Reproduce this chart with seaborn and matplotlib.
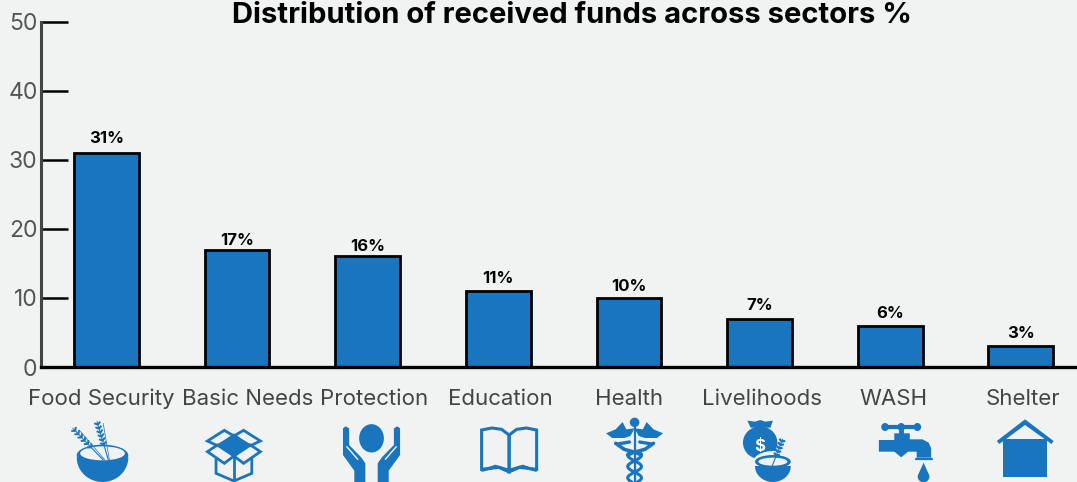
import numpy as np
import pandas as pd
import matplotlib
matplotlib.use("Agg")
import matplotlib.pyplot as plt
from matplotlib.patches import Polygon, Ellipse
import seaborn as sns

sectors = ["Food Security", "Basic Needs", "Protection", "Education", "Health", "Livelihoods", "WASH", "Shelter"]
funds = [31, 17, 16, 11, 10, 7, 6, 3]
bar_labels = ["31%", "17%", "16%", "11%", "10%", "7%", "6%", "3%"]
y_ticks = [0, 10, 20, 30, 40, 50]
label_shift_px = [-5, 11, 7, 2, 0, 2, 3, 2]
bar_label_pad_px = [7, 2, 2, 5, 4, 6, 5, 5]

BG = "#f1f3f3"
BLUE = "#1a75bf"
W, H = 1077, 482
XS = 0.344

sns.set_theme(style="white")
plt.rcParams["font.family"] = ["Inter", "DejaVu Sans"]

fig = plt.figure(figsize=(W / 100, H / 100), dpi=100, facecolor=BG)
ax = fig.add_axes([41 / W, 1 - 367 / H, (W - 41) / W, 345.5 / H], facecolor=BG)
df = pd.DataFrame({"sector": sectors, "funds": funds})
sns.barplot(data=df, x="sector", y="funds", color=BLUE, saturation=1, width=0.495,
            edgecolor="black", linewidth=2.0, ax=ax)
ax.set_xlim(-0.5, 7.43)
ax.set_ylim(0, 50)
ax.set_xlabel("")
ax.set_ylabel("")
ax.set_yticks(y_ticks)
ax.tick_params(axis="y", direction="in", length=19.4, width=1.8, color="black",
               labelsize=16.5, labelcolor="#555555", pad=2.5, left=True)
px_per_unit = (W - 41) / 7.93
ax.set_xticks([i + s / px_per_unit for i, s in enumerate(label_shift_px)])
ax.set_xticklabels(sectors)
ax.tick_params(axis="x", length=0, labelsize=16, labelcolor="#444444", pad=15.5)
for s in ("top", "right"):
    ax.spines[s].set_visible(False)
ax.spines["left"].set_color("#444444")
ax.spines["left"].set_linewidth(2.2)
ax.spines["bottom"].set_color("black")
ax.spines["bottom"].set_linewidth(2.4)
for patch, txt, val, pad in zip(ax.patches, bar_labels, funds, bar_label_pad_px):
    ax.annotate(txt, (patch.get_x() + patch.get_width() / 2, val), xytext=(0, pad * 0.72),
                textcoords="offset points", ha="center", va="bottom",
                fontsize=12, fontweight="bold", color="black")
ax.set_title("Distribution of received funds across sectors %", x=(572 - 41) / (W - 41), pad=-1,
             fontsize=21, fontweight="bold", color="black")

# decorative pictograms, in pixel space of the figure
ov = fig.add_axes([0, 0, 1, 1], facecolor="none")
ov.set_xlim(0, W)
ov.set_ylim(H, 0)
ov.axis("off")


def poly(pts, x0, fill=BLUE, edge="none", lw=0, z=2):
    ov.add_patch(Polygon([(x0 + a * XS, 380 + b / 3) for a, b in pts], closed=True,
                         facecolor=fill if fill else "none", edgecolor=edge, linewidth=lw,
                         joinstyle="miter", zorder=z))


def line(pts, x0, lw=2, color=BLUE, cap="round", z=2.5):
    ov.plot([x0 + p[0] * XS for p in pts], [380 + p[1] / 3 for p in pts], color=color, lw=lw,
            solid_capstyle=cap, solid_joinstyle="miter", zorder=z)


def ell(cx, cy, w, h, x0, color=BLUE, z=2):
    ov.add_patch(Ellipse((x0 + cx * XS, 380 + cy / 3), w * XS, h / 3, facecolor=color, edgecolor="none", zorder=z))


def half_bowl(cx, cy, w, h, x0, z=2):
    t = np.linspace(0, np.pi, 50)
    poly([(cx + w / 2 * np.cos(a), cy + h * np.sin(a)) for a in t], x0, z=z)


def wheat(a, b, x0, n=6, lw=1.2, color=BLUE, z=3):
    a, b = np.array(a, float), np.array(b, float)
    line([a, b], x0, lw=0.8, color=color, z=z)
    d = b - a
    nrm = np.array([-d[1], d[0]]) / np.hypot(*d)
    for f in np.linspace(0.4, 0.92, n):
        c = a + d * f
        for sgn in (-1, 1):
            line([c, c + d * 0.06 + sgn * nrm * 9], x0, lw=lw, color=color, cap="butt", z=z)


# food security
half_bowl(298, 232, 150, 74, 0)
ell(298, 226, 150, 64, 0, z=2)
ell(298, 220, 130, 42, 0, color=BG, z=2.2)
wheat((315, 240), (282, 125), 0, lw=1.4)
wheat((300, 240), (212, 145), 0, lw=1.4)
line([(318, 240), (300, 130)], 0, lw=0.5, z=2.4)
line([(305, 240), (230, 150)], 0, lw=0.5, z=2.4)

# basic needs
poly([(680, 160), (727, 195), (680, 228), (633, 195)], 0)
poly([(603, 183), (652, 151), (680, 168), (632, 197)], 0, fill=None, edge=BLUE, lw=2)
poly([(757, 183), (708, 151), (680, 168), (728, 197)], 0, fill=None, edge=BLUE, lw=2)
poly([(603, 215), (632, 195), (680, 228), (652, 250)], 0, fill=None, edge=BLUE, lw=2)
poly([(757, 215), (728, 195), (680, 228), (708, 250)], 0, fill=None, edge=BLUE, lw=2)
line([(628, 235), (628, 280), (680, 303), (732, 280), (732, 235)], 0, lw=2, cap="butt")
line([(680, 232), (680, 303)], 0, lw=2, cap="butt")

# protection
ell(1080, 175, 72, 85, 0)
left = [(997, 145), (1005, 139), (1015, 145), (1015, 195), (1050, 232), (1062, 250), (1062, 306), (1030, 306), (1030, 272), (997, 225)]
poly(left, 0)
poly([(2160 - a, b) for a, b in left], 0)
line([(1008, 200), (1040, 238)], 0, lw=1, color=BG)
line([(1152, 200), (1120, 238)], 0, lw=1, color=BG)

# education
cx = 1480
for sgn in (1, -1):
    poly([(cx, 165), (cx - sgn * 22, 148), (cx - sgn * 50, 144), (cx - sgn * 80, 150), (cx - sgn * 80, 268),
          (cx - sgn * 30, 262), (cx, 275)], 0, fill=None, edge=BLUE, lw=2.2)
    poly([(cx, 266), (cx - sgn * 40, 254), (cx - sgn * 80, 268), (cx - sgn * 80, 276), (cx - sgn * 35, 264), (cx, 280)], 0)

# health
X = 540
ell(275, 127, 28, 28, X)
line([(275, 127), (275, 306)], X, lw=1.6, cap="butt")
for sgn in (1, -1):
    poly([(275, 145), (275 + sgn * 12, 168), (275 + sgn * 30, 174), (275 + sgn * 65, 174), (275 + sgn * 83, 160),
          (275 + sgn * 55, 148), (275 + sgn * 35, 126), (275 + sgn * 24, 148)], X)
yy = np.linspace(215, 306, 50)
for sgn in (1, -1):
    xx = 275 + sgn * 20 * np.sin((yy - 215) * 2 * np.pi / 68 + 0.6)
    line(list(zip(xx, yy)), X, lw=2.2)
    line([(275 + sgn * 55, 190), (275 + sgn * 30, 208), (275 - sgn * 5, 218), (275 - sgn * 20, 225)], X, lw=2.6)
    line([(275 + sgn * 50, 192), (275 + sgn * 15, 186)], X, lw=2.4)

# livelihoods
ell(640, 188, 100, 98, X)
poly([(603, 122), (625, 125), (640, 120), (655, 125), (677, 122), (670, 143), (612, 143)], X)
ov.text(X + 640 * XS, 380 + 198 / 3, "$", color="white", fontsize=12, fontweight="bold", ha="center", va="center", zorder=4)
ell(680, 243, 118, 60, X, color=BG, z=2.5)
half_bowl(677, 258, 104, 48, X, z=3)
ell(677, 245, 104, 40, X, z=3)
ell(677, 245, 84, 24, X, color=BG, z=3.1)
wheat((675, 258), (705, 178), X, n=5, lw=1.6, z=3.5)

# wash
line([(1000, 141), (1100, 141)], X, lw=3)
for c in (1003, 1050, 1097):
    ell(c, 141, 22, 24, X)
line([(1050, 141), (1050, 165)], X, lw=3.5, cap="butt")
poly([(985, 180), (1030, 180), (1030, 160), (1075, 160), (1075, 178), (1112, 178), (1130, 188), (1137, 205), (1137, 233),
      (1095, 233), (1095, 215), (1070, 215), (1050, 232), (1030, 215), (985, 215)], X)
line([(1092, 236), (1140, 236)], X, lw=1.6)
tt = np.linspace(-0.6, np.pi + 0.6, 30)
poly([(1115, 248)] + [(1115 + 17 * np.cos(a), 290 + 17 * np.sin(a)) for a in tt], X)

# shelter
poly([(1328, 183), (1410, 118), (1493, 183), (1487, 192), (1410, 135), (1335, 192)], X)
poly([(1347, 178), (1475, 178), (1475, 290), (1347, 290)], X)

fig.savefig("out.png", dpi=100, facecolor=BG)
